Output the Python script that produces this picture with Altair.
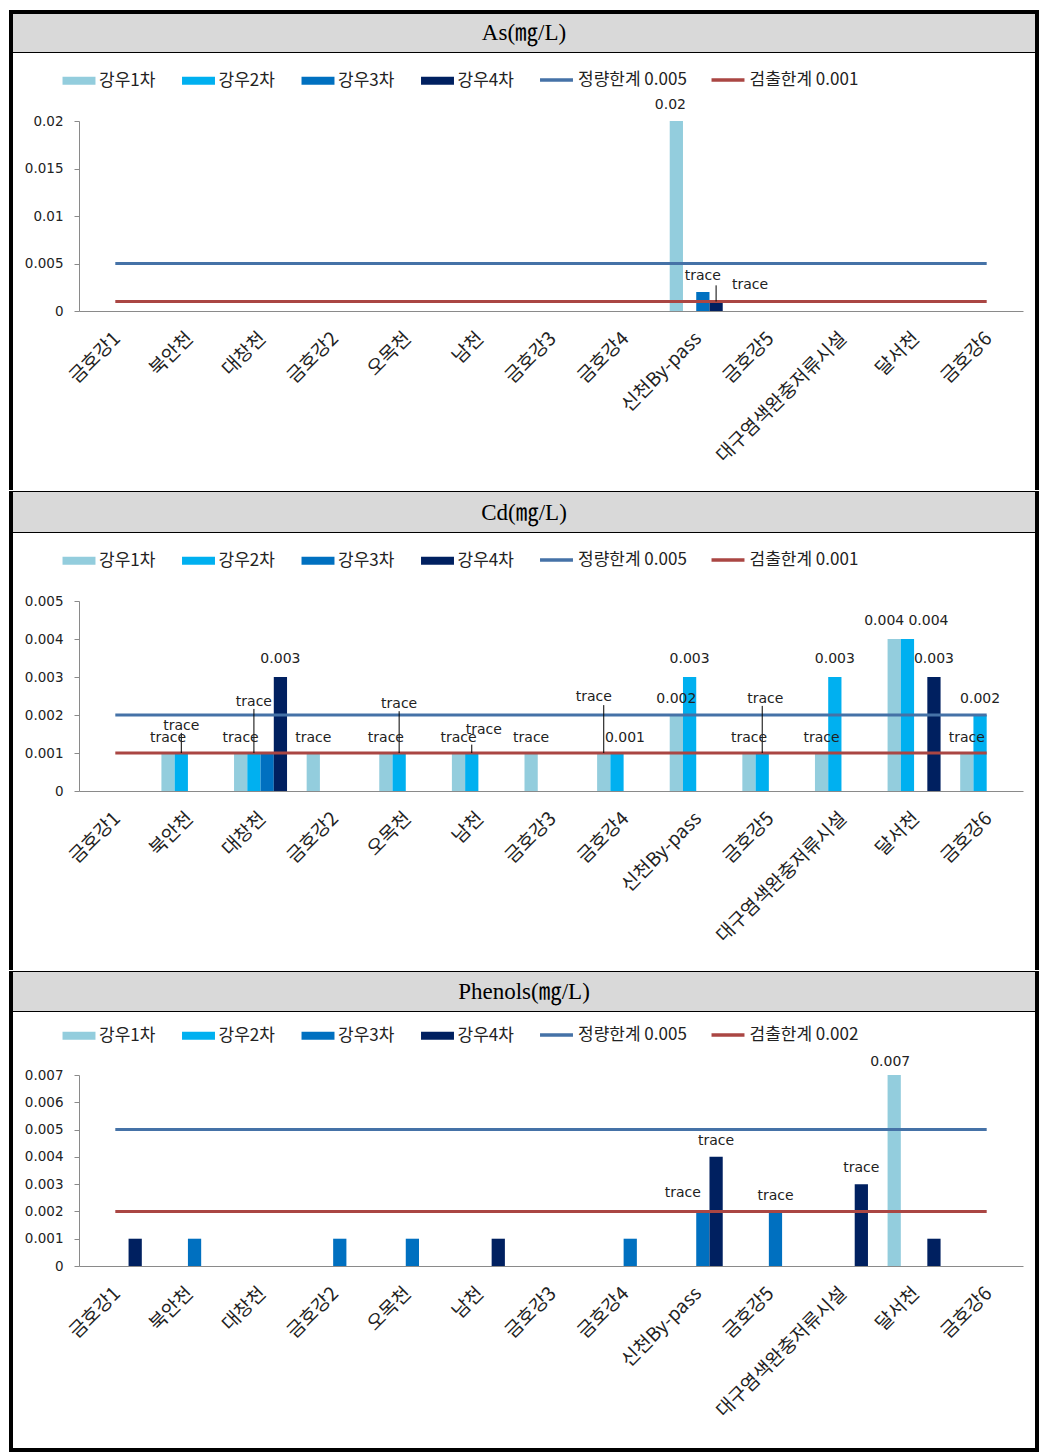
import altair as alt
import pandas as pd

# ---------------- data ----------------
cats = ["금호강1", "북안천", "대창천", "금호강2", "오목천", "남천", "금호강3", "금호강4",
        "신천By-pass", "금호강5", "대구염색완충저류시설", "달서천", "금호강6"]
series = ["강우1차", "강우2차", "강우3차", "강우4차"]
bar_colors = ["#93CDDD", "#00B0F0", "#0070C0", "#002060"]
limit_colors = ["#4572A7", "#AA4643"]
N = None

# As
as_rain1 = [N, N, N, N, N, N, N, N, 0.02, N, N, N, N]
as_rain2 = [N, N, N, N, N, N, N, N, N, N, N, N, N]
as_rain3 = [N, N, N, N, N, N, N, N, 0.002, N, N, N, N]
as_rain4 = [N, N, N, N, N, N, N, N, 0.001, N, N, N, N]
as_limit_names = ["정량한계 0.005", "검출한계 0.001"]
as_loq = [0.005, 0.005, 0.005, 0.005, 0.005, 0.005, 0.005, 0.005, 0.005, 0.005, 0.005, 0.005, 0.005]
as_lod = [0.001, 0.001, 0.001, 0.001, 0.001, 0.001, 0.001, 0.001, 0.001, 0.001, 0.001, 0.001, 0.001]
as_ticks = [0, 0.005, 0.01, 0.015, 0.02]
as_lab_cat = ["신천By-pass", "신천By-pass", "신천By-pass"]
as_lab_series = ["강우1차", "강우3차", "강우4차"]
as_lab_text = ["0.02", "trace", "trace"]
as_lab_pos = [0.0217, 0.0037, 0.0027]
as_lab_dx = [-6, 0, 34]
as_lead_cat = ["신천By-pass"]
as_lead_series = ["강우4차"]
as_lead_from = [0.001]
as_lead_to = [0.0027]

# Cd
cd_rain1 = [N, 0.001, 0.001, 0.001, 0.001, 0.001, 0.001, 0.001, 0.002, 0.001, 0.001, 0.004, 0.001]
cd_rain2 = [N, 0.001, 0.001, N, 0.001, 0.001, N, 0.001, 0.003, 0.001, 0.003, 0.004, 0.002]
cd_rain3 = [N, N, 0.001, N, N, N, N, N, N, N, N, N, N]
cd_rain4 = [N, N, 0.003, N, N, N, N, N, N, N, N, 0.003, N]
cd_limit_names = ["정량한계 0.005", "검출한계 0.001"]
cd_loq = [0.002, 0.002, 0.002, 0.002, 0.002, 0.002, 0.002, 0.002, 0.002, 0.002, 0.002, 0.002, 0.002]
cd_lod = [0.001, 0.001, 0.001, 0.001, 0.001, 0.001, 0.001, 0.001, 0.001, 0.001, 0.001, 0.001, 0.001]
cd_ticks = [0, 0.001, 0.002, 0.003, 0.004, 0.005]
cd_lab_cat = ["북안천", "북안천", "대창천", "대창천", "대창천", "금호강2", "오목천", "오목천",
              "남천", "남천", "금호강3", "금호강4", "금호강4", "신천By-pass", "신천By-pass",
              "금호강5", "금호강5", "대구염색완충저류시설", "대구염색완충저류시설",
              "달서천", "달서천", "달서천", "금호강6", "금호강6"]
cd_lab_series = ["강우1차", "강우2차", "강우1차", "강우2차", "강우4차", "강우1차", "강우1차", "강우2차",
                 "강우1차", "강우2차", "강우1차", "강우1차", "강우2차", "강우1차", "강우2차",
                 "강우1차", "강우2차", "강우1차", "강우2차",
                 "강우1차", "강우2차", "강우4차", "강우1차", "강우2차"]
cd_lab_text = ["trace", "trace", "trace", "trace", "0.003", "trace", "trace", "trace",
               "trace", "trace", "trace", "trace", "0.001", "0.002", "0.003",
               "trace", "trace", "trace", "0.003",
               "0.004", "0.004", "0.003", "trace", "0.002"]
cd_lab_pos = [0.0014, 0.0017, 0.0014, 0.00234, 0.00347, 0.0014, 0.0014, 0.00229,
              0.0014, 0.0016, 0.0014, 0.00247, 0.0014, 0.00242, 0.00347,
              0.0014, 0.00242, 0.0014, 0.00347,
              0.00447, 0.00447, 0.00347, 0.0014, 0.00242]
cd_lab_dx = [0, 0, 0, 0, 0, 0, 0, 0,
             0, 12, 0, -10, 8, 0, 0,
             0, 3, 0, 0,
             -10, 21, 0, 0, 0]
cd_lead_cat = ["북안천", "대창천", "오목천", "남천", "금호강4", "금호강5"]
cd_lead_series = ["강우2차", "강우2차", "강우2차", "강우2차", "강우1차", "강우2차"]
cd_lead_from = [0.001, 0.001, 0.001, 0.001, 0.001, 0.001]
cd_lead_to = [0.00153, 0.00216, 0.0021, 0.00122, 0.00226, 0.00224]

# Phenols
ph_rain1 = [N, N, N, N, N, N, N, N, N, N, N, 0.007, N]
ph_rain2 = [N, N, N, N, N, N, N, N, N, N, N, N, N]
ph_rain3 = [N, 0.001, N, 0.001, 0.001, N, N, 0.001, 0.002, 0.002, N, N, N]
ph_rain4 = [0.001, N, N, N, N, 0.001, N, N, 0.004, N, 0.003, 0.001, N]
ph_limit_names = ["정량한계 0.005", "검출한계 0.002"]
ph_loq = [0.005, 0.005, 0.005, 0.005, 0.005, 0.005, 0.005, 0.005, 0.005, 0.005, 0.005, 0.005, 0.005]
ph_lod = [0.002, 0.002, 0.002, 0.002, 0.002, 0.002, 0.002, 0.002, 0.002, 0.002, 0.002, 0.002, 0.002]
ph_ticks = [0, 0.001, 0.002, 0.003, 0.004, 0.005, 0.006, 0.007]
ph_lab_cat = ["신천By-pass", "신천By-pass", "금호강5", "대구염색완충저류시설", "달서천"]
ph_lab_series = ["강우3차", "강우4차", "강우3차", "강우4차", "강우1차"]
ph_lab_text = ["trace", "trace", "trace", "trace", "0.007"]
ph_lab_pos = [0.00267, 0.00458, 0.00256, 0.00359, 0.00747]
ph_lab_dx = [-20, 0, 0, 0, -4]

# ---------------- layout constants ----------------
W = 1026
X_RANGE = [68, 1012]
KFONT = "Noto Sans CJK KR"
NFONT = "DejaVu Sans"
one = pd.DataFrame({"d": [0]})


def box(x1, x2, y1, y2, color):
    return alt.Chart(one).mark_rect(fill=color, strokeWidth=0).encode(
        x=alt.value(x1), x2=alt.value(x2), y=alt.value(y1), y2=alt.value(y2))


def panel(title, rains, lnames, limits, ymax, yticks, H, zero_px, top_px, band_h,
          title_y, legend_y, labels, leaders, top_edge=False, bottom_edge=False):
    bar_rows = []
    for s, vals in zip(series, rains):
        for c, v in zip(cats, vals):
            if v is not None:
                bar_rows.append({"cat": c, "series": s, "value": v})
    bars_df = pd.DataFrame(bar_rows)
    line_rows = []
    for nm, vals in zip(lnames, limits):
        for c, v in zip(cats, vals):
            line_rows.append({"cat": c, "limit": nm, "value": v})
    lines_df = pd.DataFrame(line_rows)

    xs = alt.Scale(domain=cats, range=X_RANGE, paddingInner=0, paddingOuter=0)
    xaxis = alt.Axis(labelAngle=315, labelAlign="right", labelBaseline="middle",
                     labelFont=KFONT, labelFontSize=19, labelColor="#222",
                     labelPadding=24, labelOffset=2, labelLimit=400, ticks=False,
                     domainColor="#8a8a8a", grid=False, offset=-(H - zero_px),
                     labelOverlap=False)
    xos = alt.Scale(domain=series, paddingInner=0, paddingOuter=0.74)
    ys = alt.Scale(domain=[0, ymax], range=[zero_px, top_px], nice=False, zero=True)
    yaxis = alt.Axis(values=yticks, format="~g", offset=-X_RANGE[0], tickSize=5,
                     labelPadding=11, domainColor="#8a8a8a", tickColor="#8a8a8a",
                     labelFont=NFONT, labelFontSize=13.5, labelColor="#222", grid=False)

    def X():
        return alt.X("cat:N", scale=xs, axis=xaxis, title=None)

    def XO():
        return alt.XOffset("series:N", scale=xos)

    def Y(field):
        return alt.Y(field, scale=ys, axis=yaxis, title=None)

    layers = [
        box(0, W, 0, band_h, "#D9D9D9"),
        box(0, W, 0, 1, "black"),
        box(0, W, band_h, band_h + 1, "black"),
        alt.Chart(one).mark_text(text=title, font="Liberation Serif, Noto Sans CJK KR",
                                 fontSize=23, color="black", baseline="middle").encode(
            x=alt.value(W / 2), y=alt.value(title_y)),
    ]

    bars = alt.Chart(bars_df).mark_bar().encode(
        x=X(), xOffset=XO(), y=Y("value:Q"),
        fill=alt.Fill("series:N", scale=alt.Scale(domain=series, range=bar_colors),
                      legend=alt.Legend(orient="none", legendX=59.5, legendY=legend_y,
                                        direction="horizontal", title=None,
                                        symbolType="M-2.06,-0.5H2.06V0.5H-2.06Z",
                                        symbolSize=256, symbolStrokeWidth=0,
                                        labelFont=KFONT, labelFontSize=17, labelColor="#222",
                                        labelOffset=11.5, columnPadding=26.5, padding=0)))
    lines = alt.Chart(lines_df).mark_line(strokeWidth=3).encode(
        x=X(), y=Y("value:Q"),
        stroke=alt.Stroke("limit:N", scale=alt.Scale(domain=lnames, range=limit_colors),
                          legend=alt.Legend(orient="none", legendX=535.5, legendY=legend_y - 2,
                                            direction="horizontal", title=None,
                                            symbolType="M-2.06,0H2.06",
                                            symbolSize=256, symbolStrokeWidth=3.5,
                                            labelFont=KFONT, labelFontSize=17, labelColor="#222",
                                            labelOffset=11.5, columnPadding=16.5, padding=0)))
    layers += [bars, lines]

    if leaders is not None:
        lc, ls, lf, lt = leaders
        lead_df = pd.DataFrame({"cat": lc, "series": ls, "y1": lf, "y2": lt})
        layers.append(alt.Chart(lead_df).mark_rule(color="black", strokeWidth=1).encode(
            x=X(), xOffset=XO(), y=Y("y1:Q"), y2=alt.Y2("y2:Q")))

    lc, ls, lt, lp, ld = labels
    lab_df = pd.DataFrame({"cat": lc, "series": ls, "text": lt, "pos": lp, "dx": ld})
    for d in sorted(set(ld)):
        sub = lab_df[lab_df["dx"] == d]
        layers.append(alt.Chart(sub).mark_text(font=NFONT, fontSize=14, color="#222",
                                               baseline="middle", dx=d).encode(
            x=X(), xOffset=XO(), y=Y("pos:Q"), text="text:N"))

    ytop = -2 if top_edge else 0
    ybot = H + 2 if bottom_edge else H
    layers += [box(-2, 2, ytop, ybot, "black"), box(W - 2, W + 2, ytop, ybot, "black")]
    if top_edge:
        layers.append(box(-2, W + 2, -2, 2, "black"))
    if bottom_edge:
        layers.append(box(-2, W + 2, H - 2, H + 2, "black"))

    return alt.layer(*layers).properties(width=W, height=H).resolve_legend(
        fill="independent", stroke="independent")


p1 = panel("As(㎎/L)", [as_rain1, as_rain2, as_rain3, as_rain4], as_limit_names,
           [as_loq, as_lod], 0.02, as_ticks, H=478, zero_px=299, top_px=109, band_h=40,
           title_y=21, legend_y=60,
           labels=(as_lab_cat, as_lab_series, as_lab_text, as_lab_pos, as_lab_dx),
           leaders=(as_lead_cat, as_lead_series, as_lead_from, as_lead_to), top_edge=True)
p2 = panel("Cd(㎎/L)", [cd_rain1, cd_rain2, cd_rain3, cd_rain4], cd_limit_names,
           [cd_loq, cd_lod], 0.005, cd_ticks, H=479, zero_px=300, top_px=110, band_h=41,
           title_y=22, legend_y=61,
           labels=(cd_lab_cat, cd_lab_series, cd_lab_text, cd_lab_pos, cd_lab_dx),
           leaders=(cd_lead_cat, cd_lead_series, cd_lead_from, cd_lead_to))
p3 = panel("Phenols(㎎/L)", [ph_rain1, ph_rain2, ph_rain3, ph_rain4], ph_limit_names,
           [ph_loq, ph_lod], 0.007, ph_ticks, H=479, zero_px=295, top_px=104, band_h=40,
           title_y=21, legend_y=56,
           labels=(ph_lab_cat, ph_lab_series, ph_lab_text, ph_lab_pos, ph_lab_dx),
           leaders=None, bottom_edge=True)

chart = alt.vconcat(p1, p2, p3, spacing=-2).resolve_scale(
    x="independent", y="independent", xOffset="independent",
    fill="independent", stroke="independent").resolve_legend(
    fill="independent", stroke="independent").properties(
    padding={"left": 0, "top": 1, "right": 0, "bottom": 0}).configure_view(
    stroke="transparent")

chart.save("out.html", embed_options={"renderer": "svg", "actions": False})
